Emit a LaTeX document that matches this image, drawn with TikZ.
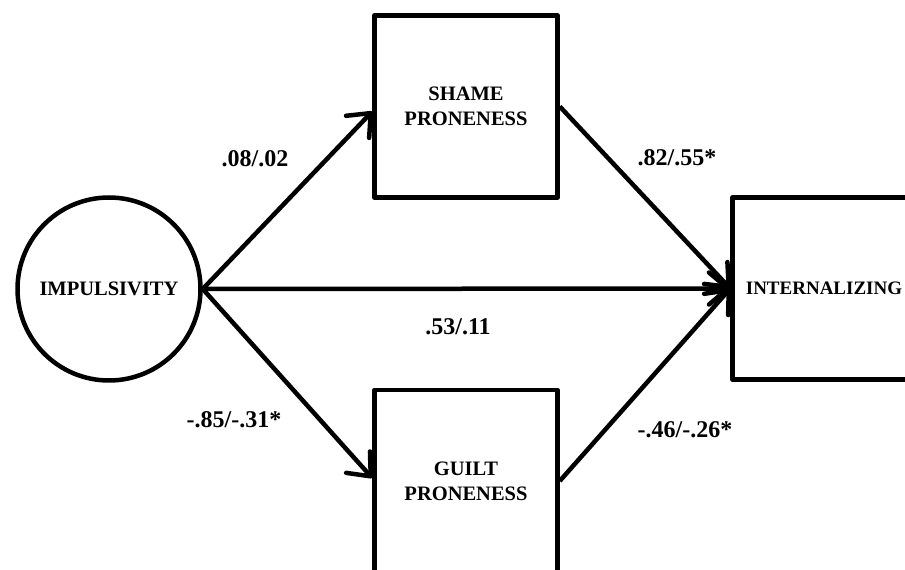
\documentclass[tikz,border=0pt]{standalone}
\usepackage{fontspec}
\setmainfont{Liberation Serif}
\usetikzlibrary{shapes,arrows.meta}

\tikzset{
  obs/.style={draw, line width=4.5pt, line join=round, minimum width=183pt, minimum height=182pt,
    inner sep=0pt, align=center, font=\fontsize{20.5}{25}\selectfont\bfseries},
  latent/.style={obs, circle, minimum size=183pt},
  effect/.style={line width=4.5pt, -{Straight Barb[length=19pt,width=32pt,round]}},
  coef/.style={font=\fontsize{24}{26}\selectfont\bfseries}
}

\begin{document}
\begin{tikzpicture}[x=1pt,y=1pt]
\useasboundingbox (0,0) rectangle (905,570);
\fill[white] (0,0) rectangle (905,570);
\clip (0,0) rectangle (905,570);

\node[latent] (imp) at (109,281) {IMPULSIVITY};
\node[obs] (shame) at (466,463.5) {SHAME\\PRONENESS};
\node[obs] (guilt) at (466,89) {GUILT\\PRONENESS};
\node[obs, font=\fontsize{19}{25}\selectfont\bfseries] (int) at (824,281.5) {INTERNALIZING};

\draw[effect] (imp.east) -- ([yshift=-5pt]shame.west);
\draw[effect] (imp.east) -- ([yshift=3pt]guilt.west);
\draw[effect] (imp.east) -- (int.west);
\draw[effect] (shame.east) -- (int.west);
\draw[effect] (guilt.east) -- (int.west);

\node[coef] (a1) at (255,411) {.08/.02};
\node[coef] (b1) at (677,412) {.82/.55*};
\node[coef] (c) at (458,243) {.53/.11};
\node[coef] (a2) at (234,150) {-.85/-.31*};
\node[coef] (b2) at (685,140) {-.46/-.26*};

\end{tikzpicture}
\end{document}
